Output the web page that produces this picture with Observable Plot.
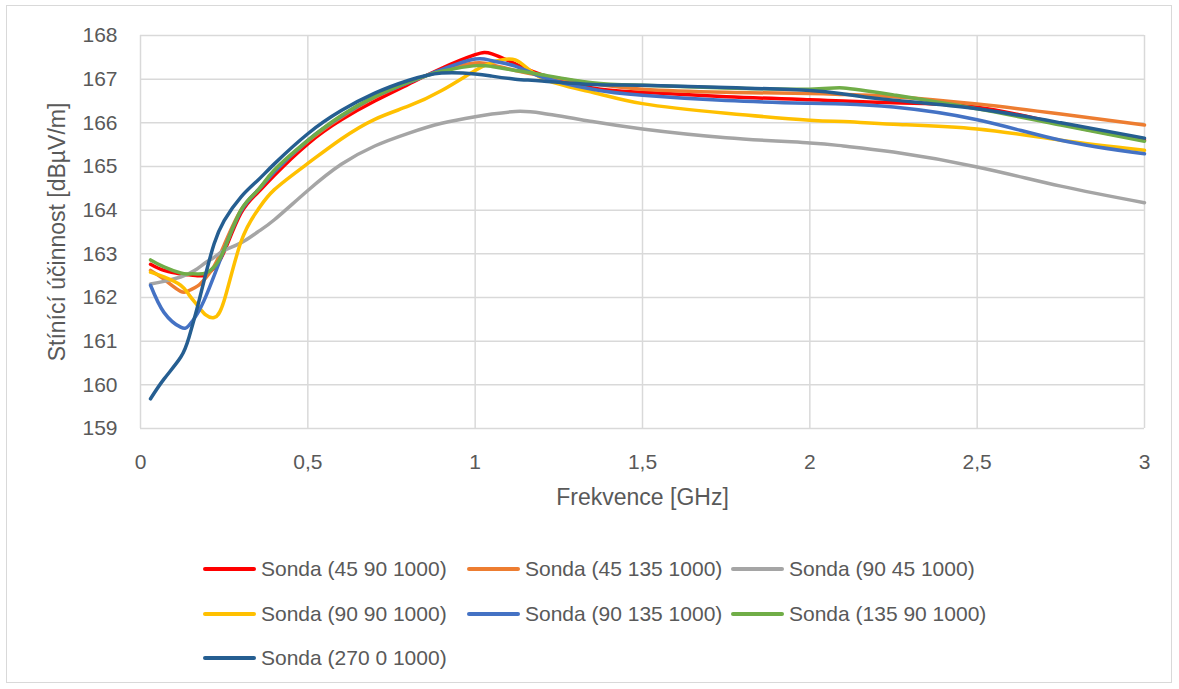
<!DOCTYPE html>
<html>
<head>
<meta charset="utf-8">
<script src="https://cdn.jsdelivr.net/npm/d3@7"></script>
<script src="https://cdn.jsdelivr.net/npm/@observablehq/plot@0.6"></script>
<style>
  html, body { margin: 0; padding: 0; background: #fff; }
  #wrap { position: relative; width: 1179px; height: 689px; overflow: hidden; font-family: "Liberation Sans", Arial, sans-serif; }
  #border { position: absolute; left: 6px; top: 5px; width: 1166px; height: 678px; border: 1px solid #d9d9d9; box-sizing: border-box; }
  #chart { position: absolute; left: 0; top: 0; }
  #legend { position: absolute; left: 203px; top: 547px; width: 900px; }
  .row { display: flex; height: 44.5px; align-items: center; }
  .item { display: flex; align-items: center; width: 264px; }
  .sw { width: 53px; height: 4px; border-radius: 2px; margin-right: 5px; }
  .lab { font-size: 21px; color: #595959; white-space: nowrap; }
</style>
</head>
<body>
<div id="wrap">
  <div id="border"></div>
  <div id="chart"></div>
  <div id="legend"></div>
</div>
<script>
const seriesNames = [
  "Sonda (45 90 1000)", "Sonda (45 135 1000)", "Sonda (90 45 1000)",
  "Sonda (90 90 1000)", "Sonda (90 135 1000)", "Sonda (135 90 1000)",
  "Sonda (270 0 1000)"
];
const seriesColors = ["#FF0000", "#ED7D31", "#A5A5A5", "#FFC000", "#4472C4", "#70AD47", "#255E91"];

const freq = [0.03, 0.07, 0.12, 0.145, 0.17, 0.195, 0.22, 0.25, 0.3, 0.35, 0.4, 0.5, 0.6, 0.7, 0.8, 0.9, 1.0, 1.05, 1.12, 1.2, 1.35, 1.5, 1.75, 2.0, 2.1, 2.25, 2.5, 2.75, 3.0];

const s45_90 = [162.76, 162.62, 162.54, 162.52, 162.50, 162.52, 162.68, 163.05, 163.93, 164.40, 164.80, 165.52, 166.07, 166.50, 166.88, 167.25, 167.56, 167.58, 167.35, 167.10, 166.80, 166.70, 166.60, 166.53, 166.50, 166.46, 166.36, 165.97, 165.60];
const s45_135 = [162.62, 162.42, 162.14, 162.16, 162.26, 162.45, 162.72, 163.20, 164.00, 164.45, 164.88, 165.58, 166.13, 166.58, 166.92, 167.20, 167.37, 167.33, 167.20, 167.08, 166.90, 166.77, 166.70, 166.67, 166.65, 166.60, 166.43, 166.20, 165.95];
const s90_45 = [162.31, 162.37, 162.47, 162.55, 162.66, 162.80, 162.92, 163.08, 163.25, 163.50, 163.78, 164.45, 165.05, 165.47, 165.76, 165.99, 166.14, 166.20, 166.26, 166.22, 166.03, 165.86, 165.66, 165.54, 165.47, 165.33, 164.99, 164.55, 164.17];
const s90_90 = [162.58, 162.47, 162.28, 162.06, 161.82, 161.60, 161.54, 161.93, 163.27, 164.00, 164.47, 165.07, 165.63, 166.08, 166.38, 166.74, 167.20, 167.38, 167.44, 167.02, 166.70, 166.44, 166.22, 166.06, 166.03, 165.97, 165.86, 165.60, 165.37];
const s90_135 = [162.28, 161.66, 161.32, 161.36, 161.63, 162.02, 162.50, 163.10, 163.98, 164.45, 164.88, 165.60, 166.15, 166.60, 166.92, 167.22, 167.46, 167.42, 167.30, 167.05, 166.77, 166.63, 166.51, 166.45, 166.43, 166.36, 166.07, 165.60, 165.29];
const s135_90 = [162.86, 162.70, 162.56, 162.54, 162.54, 162.56, 162.70, 163.10, 164.00, 164.45, 164.92, 165.60, 166.17, 166.60, 166.93, 167.18, 167.31, 167.29, 167.20, 167.10, 166.92, 166.86, 166.80, 166.77, 166.80, 166.64, 166.32, 165.95, 165.58];
const s270_0 = [159.68, 160.13, 160.63, 161.09, 161.78, 162.54, 163.23, 163.76, 164.30, 164.68, 165.06, 165.75, 166.28, 166.68, 166.97, 167.14, 167.12, 167.07, 167.00, 166.96, 166.88, 166.86, 166.81, 166.74, 166.66, 166.52, 166.32, 166.00, 165.65];

const xTicks = [0, 0.5, 1, 1.5, 2, 2.5, 3];
const yTicks = [159, 160, 161, 162, 163, 164, 165, 166, 167, 168];
const xTitle = "Frekvence [GHz]";
const yTitle = "Stínící účinnost [dBµV/m]";

const allSeries = [s45_90, s45_135, s90_45, s90_90, s90_135, s135_90, s270_0];
const data = [];
allSeries.forEach((vals, i) => {
  vals.forEach((v, j) => data.push({series: seriesNames[i], f: freq[j], v}));
});

const gridStyle = {stroke: "#d9d9d9", strokeOpacity: 1, strokeWidth: 1.5};

const chart = Plot.plot({
  width: 1179,
  height: 520,
  marginLeft: 140,
  marginRight: 35,
  marginTop: 35,
  marginBottom: 92,
  style: {fontFamily: "'Liberation Sans', Arial, sans-serif", background: "transparent", color: "#595959"},
  x: {domain: [0, 3], label: null},
  y: {domain: [159, 168], label: null},
  color: {domain: seriesNames, range: seriesColors},
  marks: [
    Plot.gridX(xTicks, gridStyle),
    Plot.gridY(yTicks, gridStyle),
    Plot.axisX(xTicks, {tickSize: 0, tickPadding: 26, fontSize: 21, fill: "#595959", label: null,
      tickFormat: d => String(d).replace(".", ",")}),
    Plot.axisY(yTicks, {tickSize: 0, tickPadding: 23, fontSize: 21, fill: "#595959", label: null}),
    Plot.line(data, {x: "f", y: "v", z: "series", stroke: "series", curve: "natural",
      strokeWidth: 3.5, strokeLinejoin: "round", strokeLinecap: "round"}),
    Plot.text([xTitle], {text: d => d, frameAnchor: "bottom", dy: 69, fontSize: 23, fill: "#595959", lineAnchor: "middle", textAnchor: "middle"}),
    Plot.text([yTitle], {text: d => d, frameAnchor: "left", dx: -83, rotate: -90, fontSize: 23, fill: "#595959", lineAnchor: "middle", textAnchor: "middle"})
  ]
});
document.getElementById("chart").appendChild(chart);

// Legend
const legend = document.getElementById("legend");
const rows = [[0, 1, 2], [3, 4, 5], [6]];
rows.forEach(r => {
  const row = document.createElement("div");
  row.className = "row";
  r.forEach(i => {
    const it = document.createElement("div");
    it.className = "item";
    const sw = document.createElement("div");
    sw.className = "sw";
    sw.style.background = seriesColors[i];
    const lab = document.createElement("span");
    lab.className = "lab";
    lab.textContent = seriesNames[i];
    it.appendChild(sw);
    it.appendChild(lab);
    row.appendChild(it);
  });
  legend.appendChild(row);
});
</script>
</body>
</html>
